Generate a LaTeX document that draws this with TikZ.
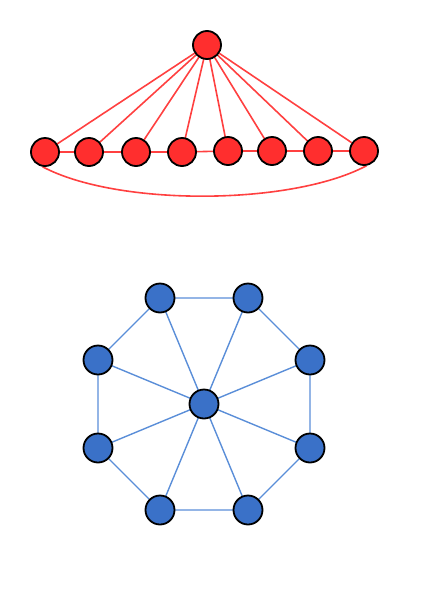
\documentclass[tikz,border=0pt]{standalone}
\usetikzlibrary{backgrounds}
\definecolor{rfill}{HTML}{FF2E2E}
\definecolor{redge}{HTML}{FF4040}
\definecolor{bfill}{HTML}{3A71C8}
\definecolor{bedge}{HTML}{5A8ED8}
\begin{document}
\begin{tikzpicture}[x=1pt,y=-1pt,
  rnode/.style={circle,draw=black,line width=1.8pt,fill=rfill,minimum size=28pt,inner sep=0pt},
  bnode/.style={circle,draw=black,line width=1.8pt,fill=bfill,minimum size=29pt,inner sep=0pt},
  redg/.style={draw=redge,line width=1.6pt},
  bedg/.style={draw=bedge,line width=1.4pt}]
\useasboundingbox (0,0) rectangle (424,600);
% red graph
\node[rnode] (T) at (207,45) {};
\foreach \i/\x/\y in {1/45/152,2/89/152,3/136/152,4/182/152,5/228/151,6/272/151,7/318/151,8/364/151}
  \node[rnode] (B\i) at (\x,\y) {};
% blue graph
\node[bnode] (C) at (204,404) {};
\foreach \i/\x/\y in {1/160/298,2/248/298,3/310/360,4/310/448,5/248/510,6/160/510,7/98/448,8/98/360}
  \node[bnode] (O\i) at (\x,\y) {};
\begin{scope}[on background layer]
\foreach \i in {1,...,8} \draw[redg] (T.center) -- (B\i.center);
\draw[redg] (B1.center) -- (B2.center) -- (B3.center) -- (B4.center) -- (B5.center) -- (B6.center) -- (B7.center) -- (B8.center);
\draw[redg] (B1.-100) .. controls +(75,40) and +(-75,40) .. (B8.-80);
\foreach \i in {1,...,8} \draw[bedg] (C.center) -- (O\i.center);
\draw[bedg] (O1.center) -- (O2.center) -- (O3.center) -- (O4.center) -- (O5.center) -- (O6.center) -- (O7.center) -- (O8.center) -- cycle;
\end{scope}
\end{tikzpicture}
\end{document}
